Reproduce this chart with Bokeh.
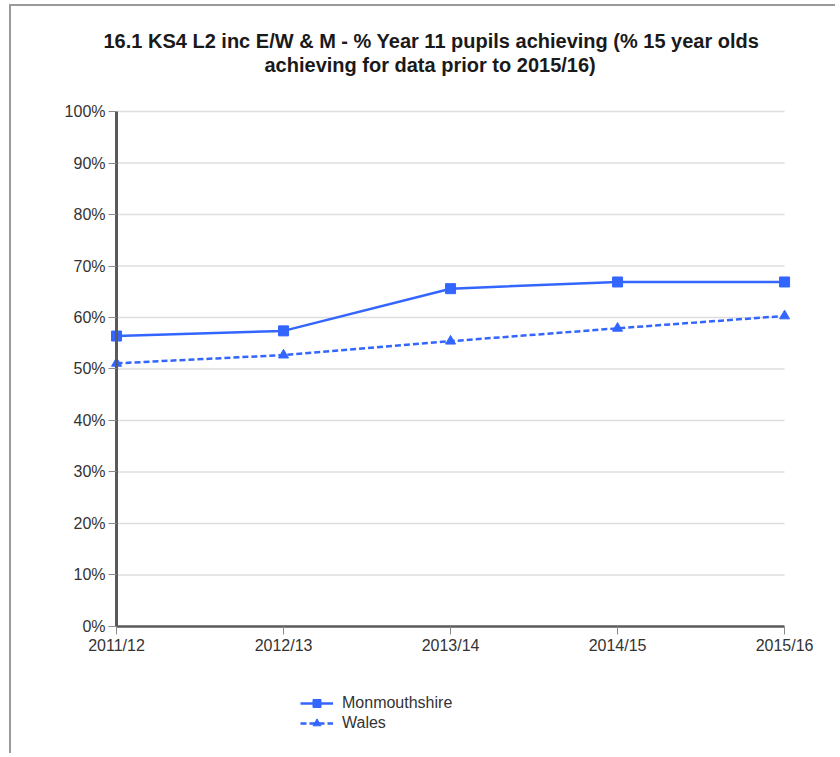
from bokeh.plotting import figure
from bokeh.models import Range1d, FixedTicker, PrintfTickFormatter, Title, Legend
from bokeh.embed import file_html
from bokeh.resources import INLINE

years = ["2011/12", "2012/13", "2013/14", "2014/15", "2015/16"]
monmouthshire = [56.4, 57.4, 65.6, 66.9, 66.9]
wales = [51.1, 52.7, 55.4, 57.9, 60.3]
y_ticks = [0, 10, 20, 30, 40, 50, 60, 70, 80, 90, 100]
title_lines = ["16.1  KS4 L2 inc E/W & M - % Year 11 pupils achieving (% 15 year olds",
               "achieving for data prior to 2015/16)"]

FONT = "Liberation Sans"
BLUE = "#3366ff"
xs = list(range(len(years)))

# the frame reaches past the axes so that tick labels and legend sit inside it
p = figure(width=826, height=749, output_backend="svg", toolbar_location=None,
           x_range=Range1d(-0.599, 4.287), y_range=Range1d(-23.9, 107.0),
           min_border_left=5, min_border_right=5, min_border_top=69, min_border_bottom=6)
p.styles = {"border-left": "2px solid #9a9a9a", "border-top": "2px solid #9a9a9a",
            "margin-left": "9px", "margin-top": "4px"}
p.outline_line_color = None
p.background_fill_color = "white"
p.border_fill_color = "white"
p.xgrid.grid_line_color = None
p.ygrid.grid_line_color = None

# horizontal grid lines between first and last category
p.segment(x0=[xs[0]] * (len(y_ticks) - 1), x1=[xs[-1]] * (len(y_ticks) - 1),
          y0=y_ticks[1:], y1=y_ticks[1:], line_color="#dedede", line_width=1.5)

# axes
p.xaxis.fixed_location = 0
p.yaxis.fixed_location = 0
p.xaxis.ticker = FixedTicker(ticks=xs)
p.xaxis.bounds = (xs[0], xs[-1])
p.xaxis.major_label_overrides = {i: y for i, y in enumerate(years)}
p.yaxis.ticker = FixedTicker(ticks=y_ticks)
p.yaxis.bounds = (0, 100)
p.yaxis.formatter = PrintfTickFormatter(format="%d%%")
for ax in (p.xaxis, p.yaxis):
    ax.axis_line_color = "#5a5a5a"
    ax.major_tick_line_color = "#8a8a8a"
    ax.major_tick_line_width = 1
    ax.major_tick_in = 0
    ax.minor_tick_line_color = None
    ax.major_label_text_font = FONT
    ax.major_label_text_font_size = "16px"
    ax.major_label_text_color = "#333333"
p.yaxis.axis_line_width = 3
p.xaxis.axis_line_width = 2.5
p.yaxis.major_tick_out = 8
p.xaxis.major_tick_out = 8
p.yaxis.major_label_standoff = 3
p.xaxis.major_label_standoff = 3

# series
l1 = p.line(xs, monmouthshire, line_color=BLUE, line_width=2.5)
s1 = p.scatter(xs, monmouthshire, marker="square", size=10, fill_color=BLUE, line_color=BLUE)
l2 = p.line(xs, wales, line_color=BLUE, line_width=2.5, line_dash="6 3")
s2 = p.scatter(xs, wales, marker="triangle", size=10, fill_color=BLUE, line_color=BLUE)

legend = Legend(items=[("Monmouthshire", [l1, s1]), ("Wales", [l2, s2])],
                location=(284, 16), orientation="vertical",
                background_fill_alpha=0, border_line_color=None,
                padding=0, margin=0, spacing=0,
                glyph_width=33, glyph_height=20, label_height=20,
                label_standoff=9, label_text_font=FONT, label_text_font_size="16px",
                label_text_color="#333333")
p.add_layout(legend, "center")

# title (second line added first: it sits nearest the plot)
p.add_layout(Title(text=title_lines[1], align="left", offset=248, standoff=0,
                   text_font=FONT, text_font_style="bold", text_font_size="20px",
                   text_line_height=1.1, text_color="#1a1a1a"), "above")
p.add_layout(Title(text=title_lines[0], align="left", offset=87, standoff=0,
                   text_font=FONT, text_font_style="bold", text_font_size="20px",
                   text_line_height=1.1, text_color="#1a1a1a"), "above")

open("out.html", "w").write(file_html(p, INLINE))
